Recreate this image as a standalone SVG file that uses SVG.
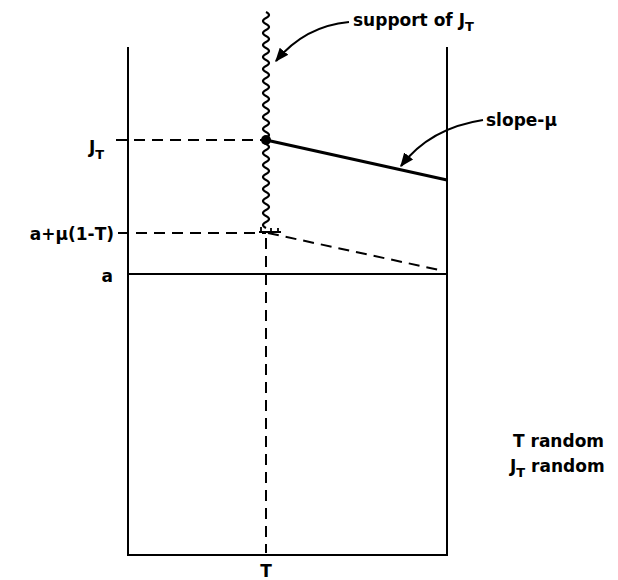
<svg xmlns="http://www.w3.org/2000/svg" width="618" height="580" viewBox="0 0 618 580">
<style>
.ln{stroke:#000;fill:none;stroke-width:2}
.dash{stroke:#000;fill:none;stroke-width:2;stroke-dasharray:11 7}
.thick{stroke:#000;fill:none;stroke-width:3.2}
text{font-family:"DejaVu Sans","Liberation Sans",sans-serif;font-size:17px;font-weight:bold;fill:#000}
.sub{font-size:13px}
</style>
<defs>
<marker id="ah" viewBox="0 0 10 10" refX="9" refY="5" markerWidth="14" markerHeight="14" markerUnits="userSpaceOnUse" orient="auto">
<path d="M0,1 L10,5 L0,9 z" fill="#000"/>
</marker>
</defs>
<rect width="618" height="580" fill="#fff"/>
<g id="frame">
<path class="ln" d="M128,47 V555 H447 V47"/>
<path class="ln" d="M128,274 H447"/>
</g>
<g id="connectors">
<path class="dash" d="M116,140 H266"/>
<path class="dash" d="M118,233 H266"/>
<path class="dash" d="M266,238 V553"/>
<path class="dash" d="M268,233 L444,271"/>
<path class="thick" d="M266,140 L447,180"/>
<path d="M266,12 q6 3 0 6 t0 6 t0 6 t0 6 t0 6 t0 6 t0 6 t0 6 t0 6 t0 6 t0 6 t0 6 t0 6 t0 6 t0 6 t0 6 t0 6 t0 6 t0 6 t0 6 t0 6 t0 6 t0 6 t0 6 t0 6 t0 6 t0 6 t0 6 t0 6 t0 6 t0 6 t0 6 t0 6 t0 6 t0 6 t0 6" stroke="#000" fill="none" stroke-width="2.2"/>
<path d="M259,232 H281 M261,232 V227 M271,232 V228 M278,232 V228" stroke="#000" fill="none" stroke-width="1.8"/>
<circle cx="266" cy="140" r="5" fill="#000"/>
<path d="M349,22 Q305,26 276,61" stroke="#000" fill="none" stroke-width="2.2" marker-end="url(#ah)"/>
<path d="M483,120 Q430,128 401,166" stroke="#000" fill="none" stroke-width="2.2" marker-end="url(#ah)"/>
</g>
<g id="labels">
<text x="353" y="26">support of J<tspan class="sub" dy="5">T</tspan></text>
<text x="486" y="126">slope-μ</text>
<text x="89" y="153">J<tspan class="sub" dy="6">T</tspan></text>
<text x="114" y="240" text-anchor="end">a+μ(1-T)</text>
<text x="113" y="282" text-anchor="end">a</text>
<text x="266" y="577" text-anchor="middle">T</text>
<text x="513" y="447">T random</text>
<text x="510" y="472">J<tspan class="sub" dy="5">T</tspan><tspan dy="-5"> random</tspan></text>
</g>
</svg>
